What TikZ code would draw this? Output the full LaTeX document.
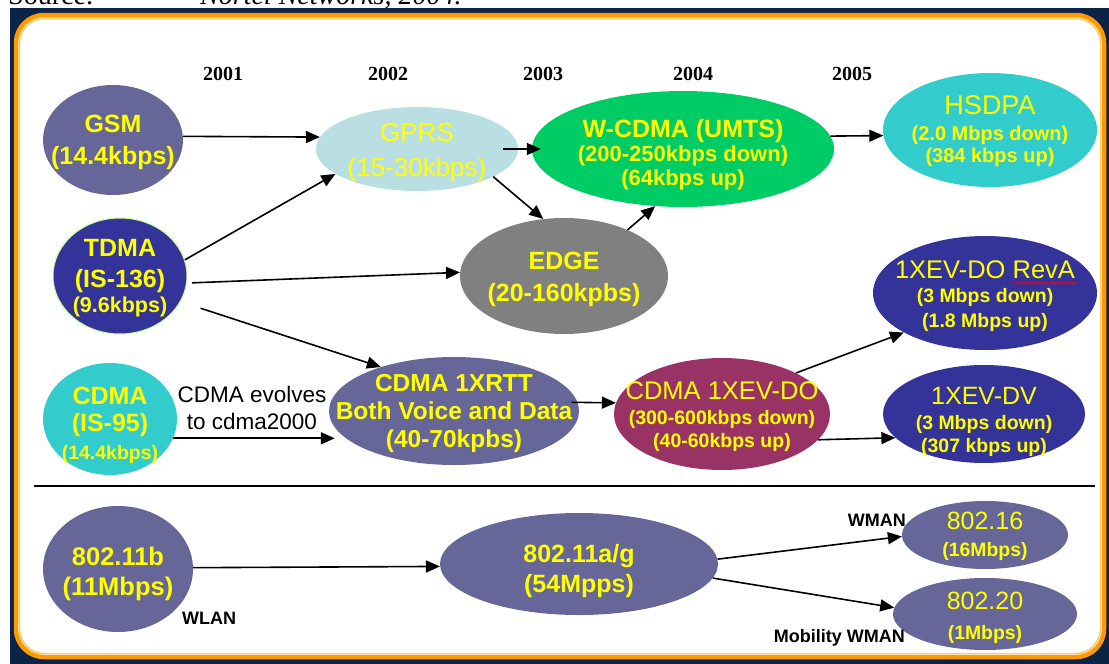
\documentclass[tikz,border=0pt]{standalone}
\usepackage{fontspec}
\setmainfont{Liberation Serif}
\newfontfamily\arialf{Liberation Sans}
\usetikzlibrary{arrows.meta,shapes.geometric,decorations.pathmorphing}
\definecolor{navy}{HTML}{0C2348}
\definecolor{orng}{HTML}{FF9900}
\definecolor{orngl}{HTML}{FFCC66}
\definecolor{slate}{HTML}{666699}
\definecolor{gprsc}{HTML}{BADFE3}
\definecolor{wgreen}{HTML}{00CC66}
\definecolor{tealc}{HTML}{33CCCC}
\definecolor{indigo}{HTML}{333399}
\definecolor{edgegray}{HTML}{808080}
\definecolor{plum}{HTML}{993366}
\definecolor{yel}{HTML}{FFFF00}
\definecolor{limeb}{HTML}{CCFF99}
\newcommand\sz[2]{\fontsize{#1}{#2}\selectfont}
\newcommand\smb{\bfseries\fontsize{19.5}{23}\selectfont}
\begin{document}
\begin{tikzpicture}[x=1pt,y=-1pt,
  el/.style 2 args={ellipse,inner sep=0pt,minimum width=#1pt,minimum height=#2pt,draw=none},
  tx/.style={text=yel,align=center,inner sep=0pt},
  arr/.style={-{Triangle[length=14pt,width=12pt]},line width=1.6pt,black},
  yr/.style={font=\sz{20}{24}\bfseries,anchor=base,inner sep=0pt},
  lbl/.style={font=\arialf\bfseries\sz{18}{20},inner sep=0pt}]
\useasboundingbox (0,0) rectangle (1109,664);
\fill[white] (0,0) rectangle (1109,664);
% source line (cut off at the top)
\begin{scope}
\clip (0,0) rectangle (1109,8);
\node[anchor=base west,inner sep=0pt,font=\sz{28}{30}] (src) at (8,4) {Source:};
\node[anchor=base west,inner sep=0pt,font=\sz{28}{30}\itshape] (srcb) at (200,4) {Nortel Networks, 2004.};
\end{scope}
\fill[navy] (10,8) rectangle (1109,664);
\draw[orng,line width=4.5pt,fill=white,rounded corners=28pt] (16,15) rectangle (1104,657);
\draw[orngl,line width=1.5pt,rounded corners=25pt] (19.5,18.5) rectangle (1100.5,653.5);

% years
\node[yr] (y1) at (223,80) {2001};
\node[yr] (y2) at (388,80) {2002};
\node[yr] (y3) at (543,80) {2003};
\node[yr] (y4) at (693,80) {2004};
\node[yr] (y5) at (852,80) {2005};

% ellipses
\node[el={140}{110},fill=slate] (gsm) at (113,140) {};
\node[el={202}{84},fill=gprsc] (gprs) at (417,149) {};
\node[el={302}{116},fill=wgreen] (wcdma) at (683,149) {};
\node[el={214}{114},fill=tealc] (hsdpa) at (990,130) {};
\node[el={134}{116},fill=indigo,draw=limeb,line width=1pt] (tdma) at (120,276) {};
\node[el={208}{116},fill=edgegray] (edge) at (564,276) {};
\node[el={224}{114},fill=indigo] (reva) at (985,293) {};
\node[el={134}{112},fill=tealc] (cdma) at (110,419) {};
\node[el={250}{108},fill=slate] (xrtt) at (454,411) {};
\node[el={216}{112},fill=plum] (evdo) at (722,414) {};
\node[el={202}{98},fill=indigo] (dv) at (984,414) {};
\node[el={150}{126},fill=slate] (wb) at (118,569) {};
\node[el={278}{102},fill=slate] (wag) at (579,564) {};
\node[el={166}{68},fill=slate] (w16) at (985,535) {};
\node[el={184}{72},fill=slate] (w20) at (985,614) {};

% texts
\node[tx,font=\arialf\bfseries\sz{25}{32}] (gsmT) at (113,142.6) {GSM\\(14.4kbps)};
\node[tx,font=\arialf\sz{26}{35}] (gprsT) at (417,153) {GPRS\\(15-30kbps)};
\node[tx,font=\arialf\bfseries\sz{25}{24}] (wcdmaT) at (683,154.3) {W-CDMA (UMTS)\\\sz{22}{24}(200-250kbps down)\\\sz{22}{24}(64kbps up)};
\node[tx,font=\arialf\sz{27}{22}] (hsdpaT) at (990,131.4) {HSDPA\\[4pt]\bfseries\sz{20}{22}(2.0 Mbps down)\\\bfseries\sz{20}{22}(384 kbps up)};
\node[tx,font=\arialf\bfseries\sz{25}{25}] (tdmaT) at (120,278.3) {TDMA\\[6pt](IS-136)\\\sz{21.5}{25}(9.6kbps)};
\node[tx,font=\arialf\bfseries\sz{25}{32}] (edgeT) at (564,279.6) {EDGE\\(20-160kpbs)};
\node[tx,font=\arialf\sz{25.5}{24}] (revaT) at (985,296.4) {1XEV-DO RevA\\\smb(3 Mbps down)\\[1pt]\smb(1.8 Mbps up)};
\node[tx,font=\arialf\bfseries\sz{25}{27}] (cdmaT) at (110,425.6) {CDMA\\(IS-95)\\[1pt]\sz{19.5}{27}(14.4kbps)};
\node[tx,font=\arialf\bfseries\sz{24.5}{28}] (xrttT) at (454,413.8) {CDMA 1XRTT\\Both Voice and Data\\(40-70kpbs)};
\node[tx,font=\arialf\sz{25.5}{23}] (evdoT) at (722,416.9) {CDMA 1XEV-DO\\[2pt]\smb(300-600kbps down)\\\smb(40-60kbps up)};
\node[tx,font=\arialf\sz{25}{23}] (dvT) at (984,422) {1XEV-DV\\[2pt]\smb(3 Mbps down)\\\smb(307 kbps up)};
\node[tx,font=\arialf\bfseries\sz{25.5}{30}] (wbT) at (118,573.5) {802.11b\\(11Mbps)};
\node[tx,font=\arialf\bfseries\sz{25}{30}] (wagT) at (579,570.6) {802.11a/g\\(54Mpps)};
\node[tx,font=\arialf\sz{25}{27}] (w16T) at (985,536.5) {802.16\\\bfseries\sz{19.4}{27}(16Mbps)};
\node[tx,font=\arialf\sz{25}{30}] (w20T) at (985,618) {802.20\\\bfseries\sz{19.4}{30}(1Mbps)};

% spell-check squiggle under RevA
\draw[red,line width=0.7pt,decorate,decoration={zigzag,amplitude=1pt,segment length=3pt}] (1014,283) -- (1076,283);

% labels
\node[align=center,inner sep=0pt,font=\arialf\sz{22.5}{27}] (evolve) at (252,408.3) {CDMA evolves\\to cdma2000};
\node[lbl,anchor=base west] (wlan) at (182,624) {WLAN};
\node[lbl,anchor=base east] (wman) at (906,526) {WMAN};
\node[lbl,anchor=base east] (mwman) at (905,642) {Mobility WMAN};

% separator
\coordinate (sepL) at (34,486);
\coordinate (sepR) at (1095,486);
\draw[line width=2.8pt] (sepL) -- (sepR);

% connectors
\draw[arr] (gsm.3) -- (gprs.173);
\draw[arr] (tdma.14) -- (gprs.197);
\draw[arr,shorten <=5pt] (tdma.-6) -- (edge.178);
\draw[arr,shorten <=21pt] (tdma.-23) -- (xrtt.149);
\draw[arr] (cdma.-17) -- ([xshift=6pt]cdma.-17 -| xrtt.west);
\draw[arr,shorten <=-15pt,shorten >=-9pt] (gprs.0) -- (wcdma.180);
\draw[arr] (gprs.-20) -- (edge.110);
\draw[arr] (edge.36) -- (wcdma.244);
\draw[arr] (wcdma.5) -- (hsdpa.183);
\draw[arr,shorten <=-6pt] (xrtt.4) -- (evdo.174);
\draw[arr] (evdo.29) -- (reva.206);
\draw[arr] (evdo.-15) -- (dv.195);
\draw[arr] (wb.1) -- (wag.181);
\draw[arr] (wag.2.5) -- (w16.181);
\draw[arr] (wag.-6) -- (w20.176);
\end{tikzpicture}
\end{document}
